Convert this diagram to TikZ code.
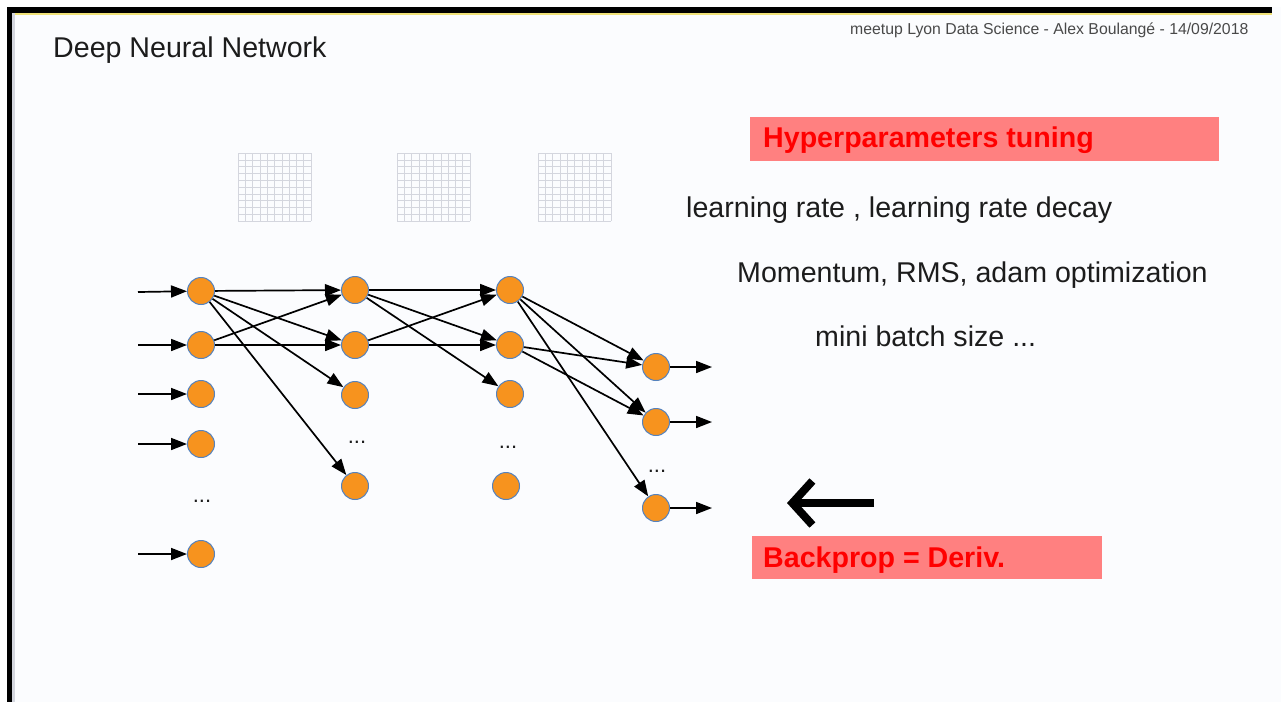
\documentclass[tikz,border=0pt]{standalone}
\usepackage{fontspec}
\setmainfont{Liberation Sans}
\usetikzlibrary{arrows.meta}
\definecolor{neuronfill}{RGB}{247,147,30}
\definecolor{neuronedge}{RGB}{84,130,190}
\definecolor{boxred}{RGB}{255,128,128}
\definecolor{slidebg}{RGB}{251,252,254}
\definecolor{gridgray}{RGB}{212,214,222}
\definecolor{textgray}{RGB}{28,28,28}
\definecolor{stripe}{RGB}{240,226,120}
\begin{document}
\begin{tikzpicture}[x=1pt,y=-1pt,
  neuron/.style={circle, fill=neuronfill, draw=neuronedge, line width=1pt, minimum size=27pt, inner sep=0pt},
  link/.style={line width=1.7pt, -{Triangle[length=16pt,width=12pt]}},
  slidetext/.style={anchor=base west, inner sep=0pt, text=textgray, font=\fontsize{28.6}{34}\selectfont},
  redbox/.style={fill=boxred, draw=none, anchor=north west, inner sep=0pt},
  redtext/.style={anchor=base west, inner sep=0pt, text=red, font=\fontsize{28.6}{34}\selectfont\bfseries},
  dots/.style={anchor=base, inner sep=0pt, text=textgray, font=\fontsize{22}{26}\selectfont},
  weights/.style={draw=gridgray, line width=0.5pt}]
\useasboundingbox (0,0) rectangle (1281,702);
\fill[white] (0,0) rectangle (1281,702);
\fill[slidebg] (7,7) rectangle (1281,702);
\fill[black] (7,7) rectangle (1272,13);
\fill[black] (7,7) rectangle (12,702);
\fill[gridgray] (12,13) rectangle (15,702);
\draw[stripe, line width=1.5pt] (15,14) -- (1272,14);

\node [anchor=base west, inner sep=0pt, text=textgray, font=\fontsize{28.6}{34}\selectfont] (title) at (53,57) {Deep Neural Network};
\node [anchor=base west, inner sep=0pt, text=textgray!80, font=\fontsize{15.8}{18}\selectfont] (footer) at (850,34) {meetup Lyon Data Science - Alex Boulangé - 14/09/2018};

\foreach \gx in {238,397,538} {
  \foreach \i in {0,...,10} {
    \draw[weights] (\gx+7.3*\i,153) -- (\gx+7.3*\i,221);
    \draw[weights] (\gx,153+6.8*\i) -- (\gx+73,153+6.8*\i);
  }
}

\node [neuron] (a1) at (201,291) {};
\node [neuron] (a2) at (201,345) {};
\node [neuron] (a3) at (201,394) {};
\node [neuron] (a4) at (201,444) {};
\node [neuron] (a5) at (201,554) {};
\node [dots] (adots) at (202,502) {...};
\node [neuron] (b1) at (355,290) {};
\node [neuron] (b2) at (355,345) {};
\node [neuron] (b3) at (355,395) {};
\node [neuron] (b4) at (355,486) {};
\node [dots] (bdots) at (357,443) {...};
\node [neuron] (c1) at (510,290) {};
\node [neuron] (c2) at (510,345) {};
\node [neuron] (c3) at (510,394) {};
\node [neuron] (c4) at (506,486) {};
\node [dots] (cdots) at (508,448) {...};
\node [neuron] (d1) at (656,367) {};
\node [neuron] (d2) at (656,422) {};
\node [neuron] (d3) at (656,508) {};
\node [dots] (ddots) at (657,472) {...};

\coordinate (in1) at (138,292);
\coordinate (in2) at (138,345);
\coordinate (in3) at (138,394);
\coordinate (in4) at (138,444);
\coordinate (in5) at (138,554);
\coordinate (out1) at (712,367);
\coordinate (out2) at (712,422);
\coordinate (out3) at (712,508);

\draw [link] (in1) -- (a1);
\draw [link] (in2) -- (a2);
\draw [link] (in3) -- (a3);
\draw [link] (in4) -- (a4);
\draw [link] (in5) -- (a5);
\draw [link] (a1) -- (b1);
\draw [link] (a1) -- (b2);
\draw [link] (a1) -- (b3);
\draw [link] (a1) -- (b4);
\draw [link] (a2) -- (b1);
\draw [link] (a2) -- (b2);
\draw [link] (b1) -- (c1);
\draw [link] (b1) -- (c2);
\draw [link] (b1) -- (c3);
\draw [link] (b2) -- (c1);
\draw [link] (b2) -- (c2);
\draw [link] (c1) -- (d1);
\draw [link] (c1) -- (d2);
\draw [link] (c1) -- (d3);
\draw [link] (c2) -- (d1);
\draw [link] (c2) -- (d2);
\draw [link] (d1) -- (out1);
\draw [link] (d2) -- (out2);
\draw [link] (d3) -- (out3);

\node [redbox, minimum width=469pt, minimum height=44pt] (hyperbox) at (750,117) {};
\node [redtext] (hyper) at (763,147) {Hyperparameters tuning};
\node [slidetext] (lrate) at (686,217) {learning rate , learning rate decay};
\node [slidetext] (optim) at (737,282) {Momentum, RMS, adam optimization};
\node [slidetext] (batch) at (815,346) {mini batch size ...};

\coordinate (backstart) at (874,503);
\coordinate (backend) at (787,503);
\draw [line width=8pt, -{Straight Barb[length=20pt,width=44pt]}] (backstart) -- (backend);
\node [redbox, minimum width=350pt, minimum height=43pt] (backbox) at (752,536) {};
\node [redtext] (backprop) at (763,567) {Backprop = Deriv.};
\end{tikzpicture}
\end{document}
